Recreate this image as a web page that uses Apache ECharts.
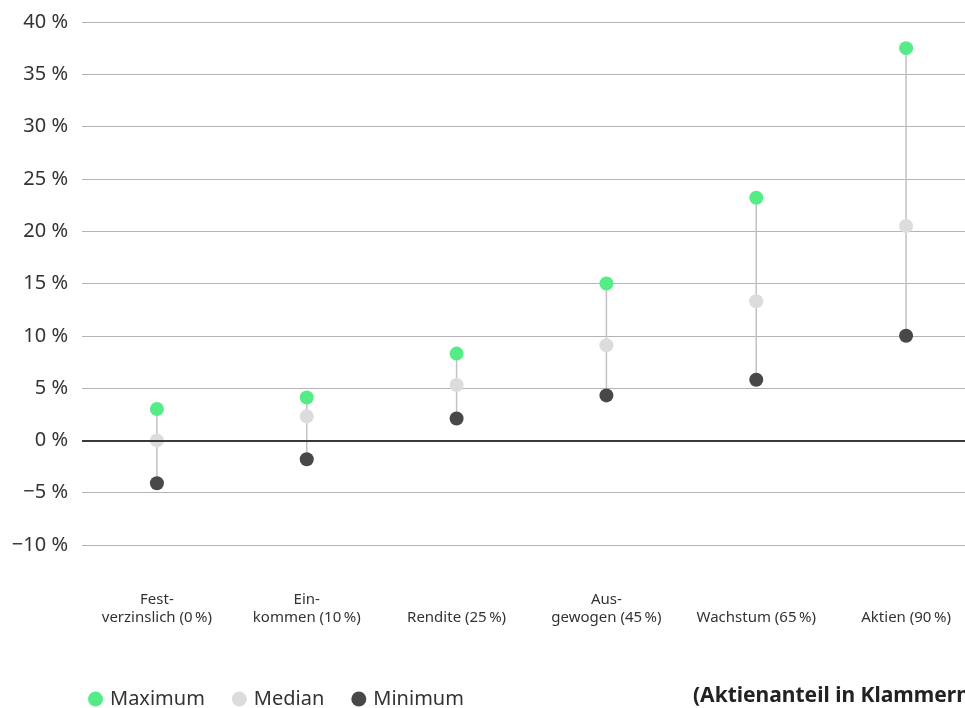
<!DOCTYPE html>
<html>
<head>
<meta charset="utf-8">
<script src="https://cdn.jsdelivr.net/npm/echarts@6/dist/echarts.min.js"></script>
<style>
html,body{margin:0;padding:0;background:#fff;}
#chart{width:965px;height:708px;}
</style>
</head>
<body>
<div id="chart"></div>
<script>
const categories = ["Fest-\nverzinslich (0\u202f%)", "Ein-\nkommen (10\u202f%)", "Rendite (25\u202f%)", "Aus-\ngewogen (45\u202f%)", "Wachstum (65\u202f%)", "Aktien (90\u202f%)"];
const maxValues = [3.0, 4.1, 8.3, 15.0, 23.2, 37.5];
const medianValues = [0.0, 2.3, 5.3, 9.1, 13.3, 20.5];
const minValues = [-4.1, -1.8, 2.1, 4.3, 5.8, 10.0];
const yTicks = [-10, -5, 0, 5, 10, 15, 20, 25, 30, 35, 40];
const note = "(Aktienanteil in Klammern)";

const FONT = "Noto Sans";
const chart = echarts.init(document.getElementById('chart'), null, {renderer: 'canvas'});

function fmt(v) {
  return (v < 0 ? "\u2212" + Math.abs(v) : String(v)) + "\u00a0%";
}

const option = {
  animation: false,
  textStyle: {fontFamily: FONT},
  grid: {left: 82, width: 899, top: 22, bottom: 163, containLabel: false, outerBoundsMode: 'none'},
  xAxis: {
    type: 'category',
    data: categories,
    axisLine: {show: false},
    axisTick: {show: false},
    axisLabel: {
      interval: 0, color: '#333', fontSize: 15, fontFamily: FONT,
      lineHeight: 18, verticalAlign: 'bottom', margin: 82
    },
    splitLine: {show: false}
  },
  yAxis: {
    type: 'value',
    min: -10, max: 40, interval: 5,
    axisLine: {show: false},
    axisTick: {show: false},
    axisLabel: {
      color: '#333', fontSize: 20, fontFamily: FONT, margin: 14,
      formatter: function (v) { return yTicks.indexOf(v) >= 0 ? fmt(v) : ''; }
    },
    splitLine: {
      lineStyle: {
        color: yTicks.map(v => v === 0 ? '#3a3a3a' : '#b4b4b4'),
        width: 1
      }
    }
  },
  legend: {
    left: 83, top: 684,
    icon: 'circle', itemWidth: 15, itemHeight: 15, itemGap: 27,
    textStyle: {color: '#333', fontSize: 20, fontFamily: FONT, padding: [0, 0, 0, 2]},
    data: ['Maximum', 'Median', 'Minimum']
  },
  graphic: [{
    type: 'text', left: 693, top: 686,
    style: {text: note, fontSize: 21, fontWeight: 'bold', fill: '#222', fontFamily: FONT}
  }],
  series: [
    {
      type: 'custom',
      name: 'range',
      silent: true,
      z: 1,
      data: categories.map((c, i) => [i, minValues[i], maxValues[i]]),
      renderItem: function (params, api) {
        const p1 = api.coord([api.value(0), api.value(1)]);
        const p2 = api.coord([api.value(0), api.value(2)]);
        return {
          type: 'line',
          shape: {x1: p1[0], y1: p1[1], x2: p2[0], y2: p2[1]},
          style: {stroke: '#c2c2c2', lineWidth: 1.5}
        };
      }
    },
    {
      type: 'line',
      name: 'zero',
      silent: true,
      data: [],
      markLine: {
        silent: true, symbol: 'none', label: {show: false},
        lineStyle: {color: '#3a3a3a', width: 2, type: 'solid'},
        data: [{yAxis: 0}]
      }
    },
    {name: 'Maximum', type: 'scatter', data: maxValues, symbolSize: 14, z: 3, itemStyle: {color: '#55ec88', opacity: 1}},
    {name: 'Median', type: 'scatter', data: medianValues, symbolSize: 14, z: 3, itemStyle: {color: '#dcdcde', opacity: 1}},
    {name: 'Minimum', type: 'scatter', data: minValues, symbolSize: 14, z: 3, itemStyle: {color: '#464849', opacity: 1}}
  ]
};
chart.setOption(option);
</script>
</body>
</html>
